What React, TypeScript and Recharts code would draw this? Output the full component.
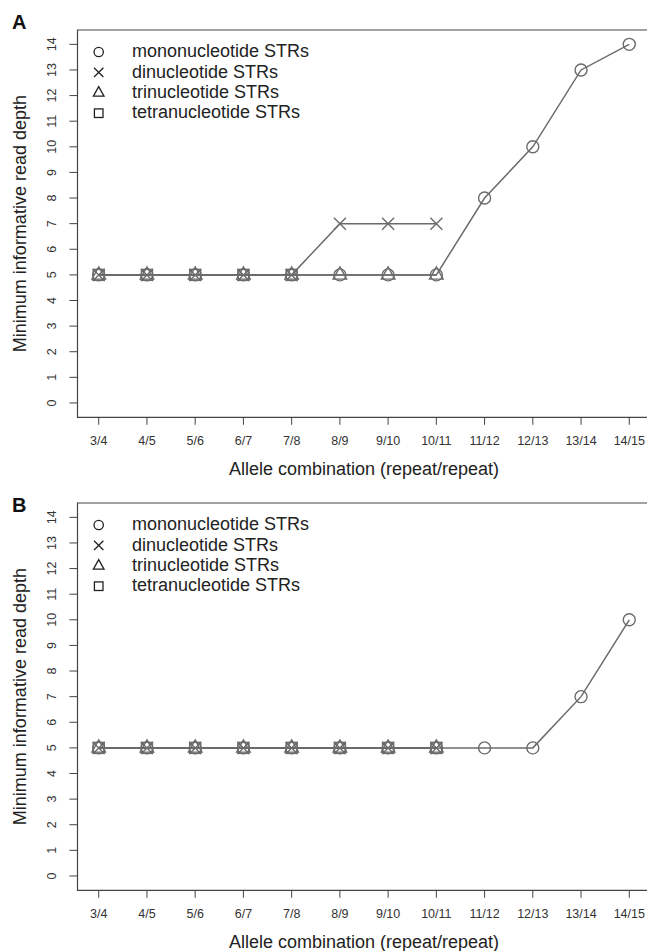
import React from "react";
import { LineChart, Line, XAxis, YAxis, ReferenceArea } from "recharts";

// allele combinations on the x axis
const categories = ["3/4", "4/5", "5/6", "6/7", "7/8", "8/9", "9/10", "10/11", "11/12", "12/13", "13/14", "14/15"];
const yTicks = [0, 1, 2, 3, 4, 5, 6, 7, 8, 9, 10, 11, 12, 13, 14];

// panel A
const monoA = [5, 5, 5, 5, 5, 5, 5, 5, 8, 10, 13, 14];
const diA = [5, 5, 5, 5, 5, 7, 7, 7, null, null, null, null];
const triA = [5, 5, 5, 5, 5, 5, 5, 5, null, null, null, null];
const tetraA = [5, 5, 5, 5, 5, null, null, null, null, null, null, null];

// panel B
const monoB = [5, 5, 5, 5, 5, 5, 5, 5, 5, 5, 7, 10];
const diB = [5, 5, 5, 5, 5, 5, 5, 5, null, null, null, null];
const triB = [5, 5, 5, 5, 5, 5, 5, 5, null, null, null, null];
const tetraB = [5, 5, 5, 5, 5, 5, 5, 5, null, null, null, null];

const seriesKeys = ["mono", "di", "tri", "tetra"];
const seriesNames = ["mononucleotide STRs", "dinucleotide STRs", "trinucleotide STRs", "tetranucleotide STRs"];
const seriesShapes = ["circle", "cross", "triangle", "square"];

const FONT = "'Liberation Sans', Arial, Helvetica, sans-serif";
const LINE = "#6b6b6b";
const INK = "#222";

function buildRows(mono, di, tri, tetra) {
  return categories.map((c, i) => ({
    idx: i + 1,
    cat: c,
    mono: mono[i],
    di: di[i],
    tri: tri[i],
    tetra: tetra[i],
  }));
}

const dataA = buildRows(monoA, diA, triA, tetraA);
const dataB = buildRows(monoB, diB, triB, tetraB);

function Marker({ shape, cx, cy, s = 1, color = LINE, sw = 1.4 }) {
  const common = { fill: "none", stroke: color, strokeWidth: sw };
  if (shape === "circle") return <circle cx={cx} cy={cy} r={6 * s} {...common} />;
  if (shape === "cross") {
    const d = 6 * s;
    return <path d={`M${cx - d},${cy - d}L${cx + d},${cy + d}M${cx + d},${cy - d}L${cx - d},${cy + d}`} {...common} />;
  }
  if (shape === "triangle") {
    return (
      <path
        d={`M${cx},${cy - 8 * s}L${cx + 6.8 * s},${cy + 4.2 * s}L${cx - 6.8 * s},${cy + 4.2 * s}Z`}
        {...common}
      />
    );
  }
  const h = 5.5 * s;
  return <rect x={cx - h} y={cy - h} width={2 * h} height={2 * h} {...common} />;
}

const XTick = (props) => {
  const { x, y, payload } = props;
  return (
    <text x={x} y={y} dy={20.6} textAnchor="middle" fontSize={12.5} fill="#333" fontFamily={FONT}>
      {categories[payload.value - 1]}
    </text>
  );
};

const YTick = (props) => {
  const { x, y, payload } = props;
  const cx = x - 17.5;
  return (
    <text
      x={cx}
      y={y}
      dy={4.4}
      textAnchor="middle"
      fontSize={12.5}
      fill="#333"
      fontFamily={FONT}
      transform={`rotate(-90, ${cx}, ${y})`}
    >
      {payload.value}
    </text>
  );
};

const xTitle = () => (
  <text x={364} y={474.5} textAnchor="middle" fontSize={18} fill={INK} fontFamily={FONT}>
    Allele combination (repeat/repeat)
  </text>
);

const yTitle = () => (
  <text
    x={20}
    y={223.6}
    dy={6.3}
    textAnchor="middle"
    fontSize={18}
    fill={INK}
    fontFamily={FONT}
    transform="rotate(-90, 20, 223.6)"
  >
    Minimum informative read depth
  </text>
);

function Panel({ data, letter, letterY, top }) {
  return (
    <div style={{ position: "absolute", left: 0, top, width: 700, height: 490 }}>
      <LineChart width={700} height={490} data={data} margin={{ top: 30, right: 49.5, left: 0, bottom: 0 }}>
        <XAxis
          type="number"
          dataKey="idx"
          domain={[0.56, 12.44]}
          ticks={categories.map((_, i) => i + 1)}
          allowDataOverflow
          height={72.7}
          tickSize={7.5}
          tickMargin={0}
          axisLine={false}
          tickLine={{ stroke: "#444" }}
          tick={XTick}
          label={xTitle}
        />
        <YAxis
          type="number"
          domain={[-0.56, 14.56]}
          ticks={yTicks}
          allowDataOverflow
          width={77.5}
          tickSize={8}
          tickMargin={0}
          axisLine={false}
          tickLine={{ stroke: "#444" }}
          tick={YTick}
          label={yTitle}
        />
        <ReferenceArea x1={0.56} x2={12.44} y1={-0.56} y2={14.56} fill="none" stroke="#444" strokeWidth={1.2} />
        {seriesKeys.map((k, si) => (
          <Line
            key={k}
            dataKey={k}
            name={seriesNames[si]}
            type="linear"
            stroke={LINE}
            strokeWidth={1.5}
            isAnimationActive={false}
            activeDot={false}
            dot={(p) =>
              p.cy == null || p.value == null ? (
                <g key={`${k}-${p.index}`} />
              ) : (
                <Marker key={`${k}-${p.index}`} shape={seriesShapes[si]} cx={p.cx} cy={p.cy} />
              )
            }
          />
        ))}
      </LineChart>
      <svg
        width={700}
        height={490}
        style={{ position: "absolute", left: 0, top: 0, pointerEvents: "none" }}
      >
        <text x={12} y={letterY} fontSize={20} fontWeight="bold" fill="#111" fontFamily={FONT}>
          {letter}
        </text>
        {seriesNames.map((n, i) => {
          const cy = 52 + i * 20.4;
          return (
            <g key={n}>
              <Marker shape={seriesShapes[i]} cx={98.7} cy={cy} s={0.78} color={INK} sw={1.3} />
              <text x={132} y={cy + 5.2} fontSize={18} fill={INK} fontFamily={FONT}>
                {n}
              </text>
            </g>
          );
        })}
      </svg>
    </div>
  );
}

export default function App() {
  return (
    <div
      style={{
        position: "absolute",
        left: 0,
        top: 0,
        width: 647,
        height: 951,
        overflow: "hidden",
        background: "#fff",
      }}
    >
      <Panel data={dataA} letter="A" letterY={29.3} top={0} />
      <Panel data={dataB} letter="B" letterY={38.7} top={473.3} />
    </div>
  );
}
